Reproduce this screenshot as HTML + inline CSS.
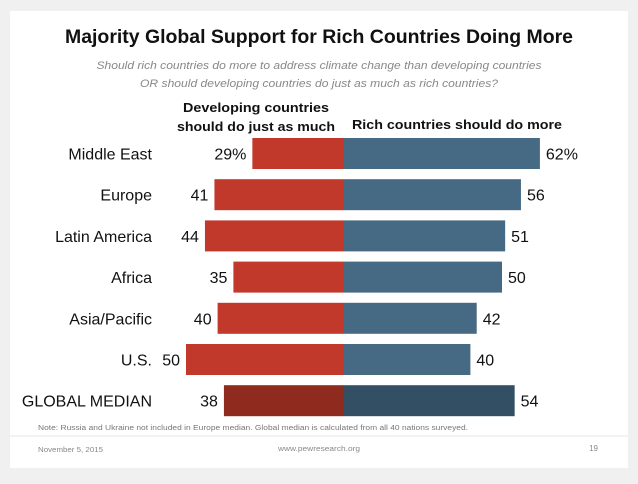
<!DOCTYPE html>
<html><head><meta charset="utf-8"><style>
body{margin:0;background:#f0f0f0;width:638px;height:479px;overflow:hidden;font-family:"Liberation Sans Narrow","Liberation Sans",sans-serif}
</style></head><body>
<svg width="638" height="479" xmlns="http://www.w3.org/2000/svg">
<rect x="10" y="11" width="618" height="457" fill="#fff"/>
<text x="319" y="43" text-anchor="middle" font-size="19" font-weight="bold" fill="#111" textLength="508" lengthAdjust="spacingAndGlyphs">Majority Global Support for Rich Countries Doing More</text>
<text x="319" y="69" text-anchor="middle" font-size="11" font-style="italic" fill="#888" textLength="445" lengthAdjust="spacingAndGlyphs">Should rich countries do more to address climate change than developing countries</text>
<text x="319" y="87" text-anchor="middle" font-size="11" font-style="italic" fill="#888" textLength="358" lengthAdjust="spacingAndGlyphs">OR should developing countries do just as much as rich countries?</text>
<text x="256" y="112" text-anchor="middle" font-size="13" font-weight="bold" fill="#111" textLength="146" lengthAdjust="spacingAndGlyphs">Developing countries</text>
<text x="256" y="131" text-anchor="middle" font-size="13" font-weight="bold" fill="#111" textLength="158" lengthAdjust="spacingAndGlyphs">should do just as much</text>
<text x="457" y="129" text-anchor="middle" font-size="13" font-weight="bold" fill="#111" textLength="210" lengthAdjust="spacingAndGlyphs">Rich countries should do more</text>
<g id="bars"></g>
<text x="38" y="430" font-size="7" fill="#777" textLength="430" lengthAdjust="spacingAndGlyphs">Note: Russia and Ukraine not included in Europe median. Global median is calculated from all 40 nations surveyed.</text>
<line x1="10" y1="436" x2="628" y2="436" stroke="#e6e6e6"/>
<text x="38" y="452" font-size="7" fill="#888" textLength="65" lengthAdjust="spacingAndGlyphs">November 5, 2015</text>
<text x="319" y="451" text-anchor="middle" font-size="7" fill="#888" textLength="82" lengthAdjust="spacingAndGlyphs">www.pewresearch.org</text>
<text x="598" y="451" text-anchor="end" font-size="8" fill="#888">19</text>
</svg>
<script>
const categories=["Middle East","Europe","Latin America","Africa","Asia/Pacific","U.S.","GLOBAL MEDIAN"];
const developingValues=[29,41,44,35,40,50,38];
const richValues=[62,56,51,50,42,40,54];
const center=344, scale=3.16, top0=138, step=41.2, barH=31;
const xL=v=>center-v*scale, xR=v=>center+v*scale, yRow=i=>top0+i*step;
const g=document.getElementById('bars');
const NS='http://www.w3.org/2000/svg';
function mk(tag,attrs,txt){const e=document.createElementNS(NS,tag);for(const k in attrs)e.setAttribute(k,attrs[k]);if(txt!==undefined)e.textContent=txt;g.appendChild(e);return e;}
categories.forEach((c,i)=>{
  const med=i===categories.length-1;
  const y=yRow(i), cy=y+barH/2+6;
  let e=mk('text',{x:152,y:cy,'text-anchor':'end','font-size':16,fill:'#111'},c);
  
  
  e=mk('rect',{x:xL(developingValues[i]),y:y,width:developingValues[i]*scale,height:barH,fill:med?'#8e2a1e':'#c0392b'});
  
  
  e=mk('rect',{x:center,y:y,width:richValues[i]*scale,height:barH,fill:med?'#324f63':'#476a84'});
  
  
  e=mk('text',{x:xL(developingValues[i])-6,y:cy,'text-anchor':'end','font-size':16,fill:'#111'},developingValues[i]+(i===0?'%':''));
  
  
  e=mk('text',{x:xR(richValues[i])+6,y:cy,'font-size':16,fill:'#111'},richValues[i]+(i===0?'%':''));
  
  
});
</script>
</body></html>
